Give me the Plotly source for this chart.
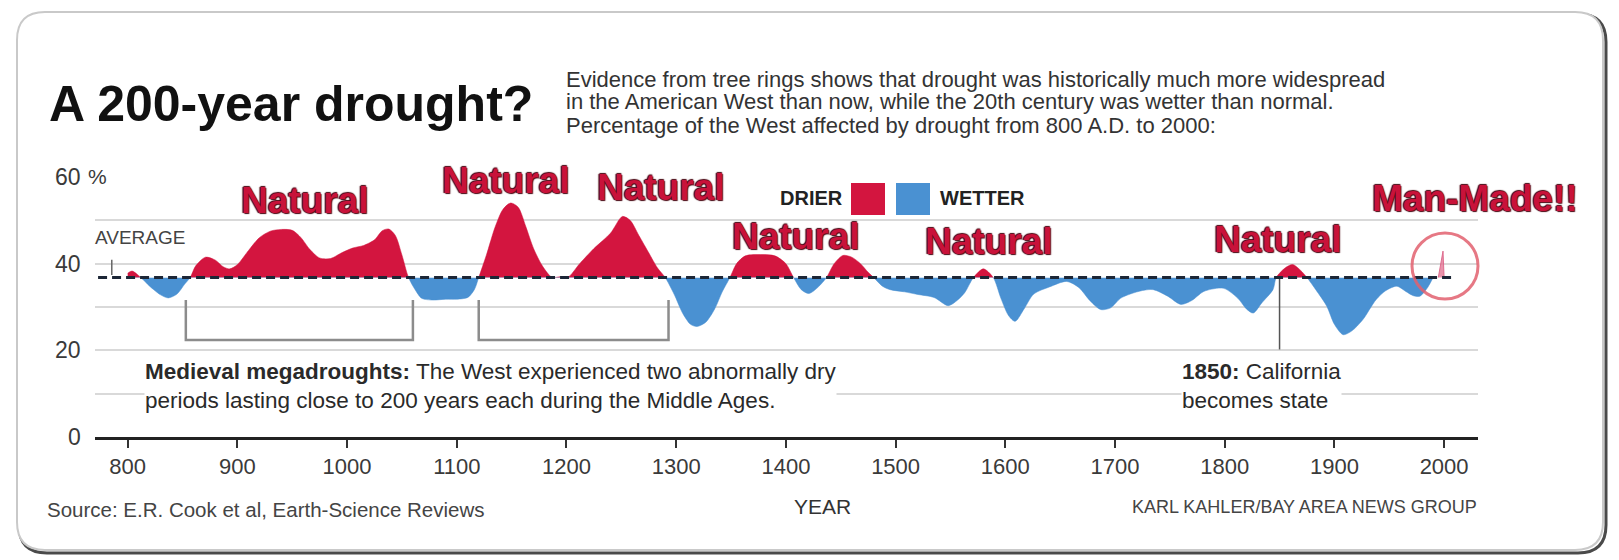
import plotly.graph_objects as go

# ---------------- data ----------------
YEARS = [800, 804, 812, 820, 830, 837, 845, 852, 857, 862, 871, 880, 887, 893, 900,
         910, 920, 930, 940, 950, 958, 966, 975, 985, 995, 1005, 1015, 1025, 1032, 1038,
         1044, 1050, 1056, 1062, 1068, 1078, 1090, 1100, 1110, 1116, 1120, 1127, 1135, 1142,
         1149, 1156, 1163, 1170, 1178, 1187, 1194, 1201, 1212, 1225, 1240, 1251, 1258, 1266,
         1275, 1283, 1290, 1298, 1306, 1313, 1319, 1327, 1335, 1342, 1349, 1355, 1363, 1377,
         1390, 1400, 1407, 1414, 1421, 1429, 1437, 1444, 1452, 1460, 1468, 1475, 1480, 1488,
         1495, 1508, 1520, 1535, 1548, 1556, 1563, 1571, 1580, 1589, 1596, 1603, 1609, 1617,
         1626, 1640, 1656, 1667, 1677, 1687, 1696, 1705, 1714, 1725, 1735, 1748, 1760, 1770,
         1781, 1799, 1812, 1820, 1826, 1834, 1844, 1847, 1855, 1862, 1869, 1875, 1883, 1893,
         1900, 1908, 1916, 1926, 1938, 1947, 1957, 1965, 1972, 1978, 1985, 1990]
DROUGHT_PCT = [37.8, 38.3, 36.8, 34.8, 32.8, 32.1, 33.0, 35.3, 36.8, 39.5, 41.5, 40.8, 39.3, 38.8, 39.8,
               43.0, 46.0, 47.5, 47.9, 47.7, 46.0, 43.3, 41.3, 41.2, 42.5, 43.6, 44.2, 45.5, 47.6, 48.0,
               46.5, 42.0, 36.8, 34.0, 32.0, 31.6, 31.8, 31.8, 32.2, 34.0, 36.8, 42.0, 48.5, 52.5,
               54.0, 53.0, 48.5, 43.5, 39.5, 36.8, 37.0, 36.8, 40.0, 43.5, 47.0, 50.9, 50.0, 46.5,
               42.5, 39.0, 36.8, 33.0, 28.5, 26.0, 25.5, 26.5, 29.5, 33.5, 36.8, 40.0, 41.8, 42.1,
               41.8, 40.0, 36.8, 34.0, 33.1, 34.5, 36.8, 40.0, 41.9, 41.5, 40.0, 38.0, 36.8, 34.8,
               34.0, 33.5, 32.9, 32.2, 30.3, 31.5, 33.3, 36.8, 38.8, 36.8, 32.0, 28.0, 26.7, 29.5,
               33.0, 34.6, 35.9, 34.5, 31.5, 29.4, 29.8, 32.0, 33.0, 33.8, 34.0, 32.5, 30.6, 31.5,
               33.6, 34.3, 32.0, 29.5, 28.6, 31.0, 34.0, 36.8, 39.0, 39.8, 38.5, 36.8, 34.0, 30.2,
               26.0, 23.6, 24.5, 27.1, 31.7, 33.8, 34.8, 33.6, 32.6, 32.5, 34.5, 36.8]
AVERAGE = 36.8
SPIKE_YEARS = [1994.7, 1999.0, 2000.0]
SPIKE_PCT = [36.8, 42.9, 36.8]
AVERAGE_SPAN = [773, 2008]
MEGADROUGHTS = [(853, 1060), (1120, 1293)]
STATEHOOD_YEAR = 1850
X_TICKS = [800, 900, 1000, 1100, 1200, 1300, 1400, 1500, 1600, 1700, 1800, 1900, 2000]
X_TICK_TEXT = [str(v) for v in X_TICKS]
Y_TICKS = [0, 20, 40, 60]
Y_TICK_TEXT = ["0", "20", "40", "60"]
GRID_VALUES = [10, 20, 30, 40, 50, 60]

# ---------------- layout helpers ----------------
W, H = 1619, 560
OFF = 8                     # default page body margin of the exported html
L, R, T, B = 95, 141, 177, 123   # plot area in page pixels
PW, PH = W - L - R, H - T - B
X_RANGE = [770.2, 2030.9]
Y_MAX = 60


def px(x):
    return (x - L) / PW


def py(y):
    return (H - B - y) / PH


RED = "#d3153f"
BLUE = "#4a91d2"
LABEL_RED = "#c8123a"
SANS = "'Liberation Sans', Arial, sans-serif"

fig = go.Figure()

# drier (red) part: clipped to the upper subplot (range AVERAGE..60)
fig.add_trace(go.Scatter(x=YEARS, y=DROUGHT_PCT, yaxis="y", mode="lines", fill="tozeroy",
                         fillcolor=RED, line=dict(color=RED, width=0.5, shape="spline", smoothing=0.8),
                         hoverinfo="skip"))
# wetter (blue) part: clipped to the lower subplot (range 0..AVERAGE)
fig.add_trace(go.Scatter(x=YEARS, y=[AVERAGE] * len(YEARS), yaxis="y2", mode="lines",
                         line=dict(width=0), hoverinfo="skip"))
fig.add_trace(go.Scatter(x=YEARS, y=DROUGHT_PCT, yaxis="y2", mode="lines", fill="tonexty",
                         fillcolor=BLUE, line=dict(color=BLUE, width=0.5, shape="spline", smoothing=0.8),
                         hoverinfo="skip"))
# man-made spike
fig.add_trace(go.Scatter(x=SPIKE_YEARS, y=SPIKE_PCT, yaxis="y3", mode="lines", fill="toself",
                         fillcolor="rgba(228,120,150,0.8)", line=dict(color="rgba(220,100,135,0.9)", width=1),
                         hoverinfo="skip"))
# megadrought brackets
for s, e in MEGADROUGHTS:
    fig.add_trace(go.Scatter(x=[s, s, e, e], y=[31.6, 22.4, 22.4, 31.6], yaxis="y3", mode="lines",
                             line=dict(color="#8c8c8c", width=2.5), hoverinfo="skip"))
# statehood line
fig.add_trace(go.Scatter(x=[STATEHOOD_YEAR, STATEHOOD_YEAR], y=[AVERAGE, 20.2], yaxis="y3", mode="lines",
                         line=dict(color="#555555", width=1.5), hoverinfo="skip"))
# average pointer
fig.add_trace(go.Scatter(x=[785.5, 785.5], y=[40.9, 37.4], yaxis="y3", mode="lines",
                         line=dict(color="#666666", width=1.5), hoverinfo="skip"))
# average dashed line
fig.add_trace(go.Scatter(x=AVERAGE_SPAN, y=[AVERAGE, AVERAGE], yaxis="y3", mode="lines",
                         line=dict(color="#1c2636", width=3, dash="9px,5px"), hoverinfo="skip"))

split = AVERAGE / Y_MAX
grid = dict(showgrid=True, gridcolor="#d9d9d9", gridwidth=2, showticklabels=False,
            ticks="", zeroline=False, showline=False, fixedrange=True)
fig.update_layout(
    width=W, height=H, margin=dict(l=L - OFF, r=R + OFF, t=T - OFF, b=B + OFF),
    paper_bgcolor="white", plot_bgcolor="rgba(0,0,0,0)", showlegend=False, hovermode=False,
    xaxis=dict(domain=[0, 1], range=X_RANGE, anchor="y2", showline=True, linecolor="#222222",
               linewidth=3, ticks="outside", ticklen=8, tickwidth=2, tickcolor="#333333",
               tickvals=X_TICKS, ticktext=X_TICK_TEXT, showgrid=False, zeroline=False,
               tickfont=dict(family=SANS, size=22, color="#3a3a3a"), ticklabelstandoff=0,
               fixedrange=True),
    yaxis=dict(domain=[split, 1], range=[AVERAGE, Y_MAX], anchor="x",
               tickvals=[g for g in GRID_VALUES if g > AVERAGE], **grid),
    yaxis2=dict(domain=[0, split], range=[0, AVERAGE], anchor="x",
                tickvals=[g for g in GRID_VALUES if 0 < g < AVERAGE], **grid),
    yaxis3=dict(domain=[0, 1], range=[0, Y_MAX], anchor="x", visible=False, fixedrange=True),
)

ann = []


def text(t, x, y, size, color="#333333", family=SANS, xanchor="left", yanchor="middle", **kw):
    ann.append(dict(text=t, x=px(x), y=py(y), xref="paper", yref="paper", showarrow=False,
                    xanchor=xanchor, yanchor=yanchor, align="left",
                    font=dict(family=family, size=size, color=color), **kw))


# y tick labels
for v, lab in zip(Y_TICKS, Y_TICK_TEXT):
    ann.append(dict(text=lab, x=px(83), y=v, xref="paper", yref="y3", showarrow=False,
                    xanchor="right", yanchor="middle",
                    font=dict(family=SANS, size=23, color="#3a3a3a")))
text("%", 86, 176, 21, "#3a3a3a", bgcolor="white", borderpad=1)

# title and subtitle
text("<b>A 200-year drought?</b>", 47, 104, 50, "#111111")
text("Evidence from tree rings shows that drought was historically much more widespread", 564, 79, 22, "#333333")
text("in the American West than now, while the 20th century was wetter than normal.", 564, 102, 22, "#333333")
text("Percentage of the West affected by drought from 800 A.D. to 2000:", 564, 125, 22, "#333333")

# labels in chart
text("AVERAGE", 93, 237, 19, "#444444")
text("<b>DRIER</b>", 845, 198, 20, "#222222", xanchor="right")
text("<b>WETTER</b>", 938, 198, 20, "#222222")

shadow = "1px 1px 1px #4a0612, -1px 0px 1px #4a0612, 0px -1px 1px #4a0612"
for lab, cx, cy in [("Natural", 304, 200), ("Natural", 505, 180), ("Natural", 660, 187),
                    ("Natural", 796, 236), ("Natural", 988, 241), ("Natural", 1277, 239),
                    ("Man-Made!!", 1475, 198)]:
    ann.append(dict(text="<b>" + lab + "</b>", x=px(cx), y=py(cy), xref="paper", yref="paper",
                    showarrow=False, xanchor="center", yanchor="middle",
                    font=dict(family=SANS, size=37, color=LABEL_RED, shadow=shadow)))

text("<b>Medieval megadroughts:</b> The West experienced two abnormally dry<br>"
     "periods lasting close to 200 years each during the Middle Ages.", 144, 386, 22.5, "#2a2a2a",
     bgcolor="white", borderpad=0)
text("<b>1850:</b> California<br>becomes state", 1181, 386, 22.5, "#2a2a2a", bgcolor="white", borderpad=0)

text("YEAR", 822, 506, 21, "#333333", xanchor="center")
text("Source: E.R. Cook et al, Earth-Science Reviews", 45, 509, 20.5, "#444444")
text("KARL KAHLER/BAY AREA NEWS GROUP", 1479, 507, 18, "#444444", xanchor="right")

fig.update_layout(annotations=ann)


# card frame
def rounded(l, t, r, b, rad):
    return (f"M {px(l + rad)},{py(t)} L {px(r - rad)},{py(t)} Q {px(r)},{py(t)} {px(r)},{py(t + rad)} "
            f"L {px(r)},{py(b - rad)} Q {px(r)},{py(b)} {px(r - rad)},{py(b)} "
            f"L {px(l + rad)},{py(b)} Q {px(l)},{py(b)} {px(l)},{py(b - rad)} "
            f"L {px(l)},{py(t + rad)} Q {px(l)},{py(t)} {px(l + rad)},{py(t)} Z")


shapes = [
    dict(type="path", xref="paper", yref="paper", path=rounded(19, 14, 1606, 553, 28),
         line=dict(color="#4a4a4a", width=3), layer="below"),
    dict(type="path", xref="paper", yref="paper", path=rounded(17, 12, 1603, 550, 28),
         line=dict(color="#c9c9c9", width=2), fillcolor="white", layer="below"),
    dict(type="rect", xref="paper", yref="paper", x0=px(851), x1=px(885), y0=py(215), y1=py(183),
         fillcolor=RED, line=dict(width=0)),
    dict(type="rect", xref="paper", yref="paper", x0=px(896), x1=px(930), y0=py(215), y1=py(183),
         fillcolor=BLUE, line=dict(width=0)),
    dict(type="circle", xref="paper", yref="paper", x0=px(1412), x1=px(1478), y0=py(299), y1=py(233),
         line=dict(color="rgba(226,96,110,0.85)", width=3)),
]
fig.update_layout(shapes=shapes)

fig.write_html("out.html", config={"displayModeBar": False})
